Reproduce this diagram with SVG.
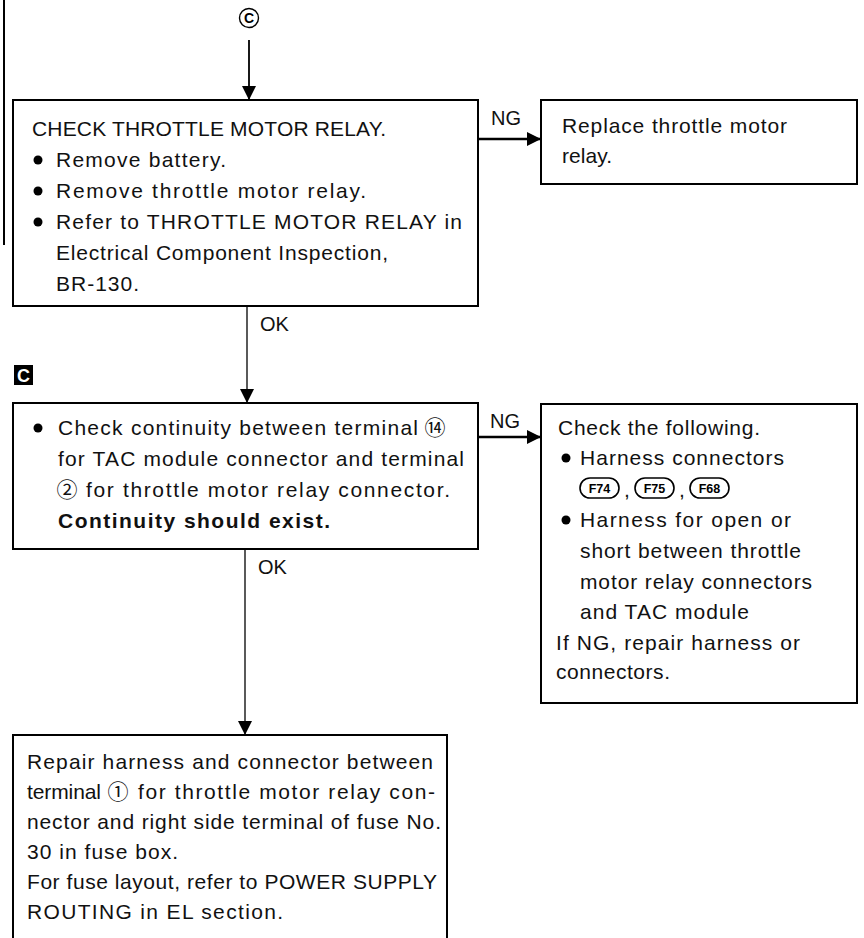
<svg xmlns="http://www.w3.org/2000/svg" width="864" height="938" viewBox="0 0 864 938">
<defs>
<style>
.box{fill:#fff;stroke:#000;stroke-width:2}
.t{font-family:"Liberation Sans",Arial,sans-serif;font-size:21px;fill:#111}
.b{font-weight:bold}
.lbl{font-family:"Liberation Sans",Arial,sans-serif;font-size:20px;fill:#111}
.c{font-family:"Noto Sans CJK JP","DejaVu Sans",sans-serif;font-size:21px;fill:#111}
.con{stroke:#000;fill:none}
.pill{fill:#fff;stroke:#000;stroke-width:1.6}
.pt{font-family:"Liberation Sans",Arial,sans-serif;font-size:12.5px;font-weight:bold;fill:#000}
</style>
<marker id="ah" viewBox="0 0 10 10" refX="10" refY="5" markerWidth="14" markerHeight="14" markerUnits="userSpaceOnUse" orient="auto">
<path d="M0,0 L10,5 L0,10 z" fill="#000"/>
</marker>
</defs>
<rect width="864" height="938" fill="#fff"/>
<line x1="4" y1="0" x2="4" y2="245" stroke="#000" stroke-width="2"/>

<g id="entry">
<circle cx="249" cy="18" r="9.5" fill="none" stroke="#000" stroke-width="1.4"/>
<text x="249" y="23" text-anchor="middle" font-family="Liberation Sans,Arial,sans-serif" font-size="14" font-weight="bold">C</text>
</g>

<g id="tagC">
<rect x="14" y="365" width="19" height="20" fill="#000"/>
<text x="23.5" y="381.5" text-anchor="middle" font-family="Liberation Sans,Arial,sans-serif" font-size="18" font-weight="bold" fill="#fff">C</text>
</g>

<g id="connectors">
<line class="con" x1="249" y1="40" x2="249" y2="100" stroke-width="1.8" marker-end="url(#ah)"/>
<line class="con" x1="478" y1="139" x2="541" y2="139" stroke-width="2.5" marker-end="url(#ah)"/>
<line class="con" x1="247" y1="306" x2="247" y2="403" stroke-width="1.3" marker-end="url(#ah)"/>
<line class="con" x1="478" y1="437" x2="541" y2="437" stroke-width="2.5" marker-end="url(#ah)"/>
<line class="con" x1="245" y1="549" x2="245" y2="735" stroke-width="1.3" marker-end="url(#ah)"/>
<text class="lbl" x="491" y="125">NG</text>
<text class="lbl" x="490" y="428">NG</text>
<text class="lbl" x="260" y="331">OK</text>
<text class="lbl" x="258" y="574">OK</text>
</g>

<g id="check-relay">
<rect class="box" x="13" y="100" width="465" height="206"/>
<text class="t" x="32" y="136" textLength="354">CHECK THROTTLE MOTOR RELAY.</text>
<circle cx="38" cy="160" r="4.5"/>
<text class="t" x="56" y="167" textLength="170">Remove battery.</text>
<circle cx="38" cy="191" r="4.5"/>
<text class="t" x="56" y="198" textLength="310">Remove throttle motor relay.</text>
<circle cx="38" cy="222" r="4.5"/>
<text class="t" x="56" y="229" textLength="406">Refer to THROTTLE MOTOR RELAY in</text>
<text class="t" x="56" y="260" textLength="332">Electrical Component Inspection,</text>
<text class="t" x="56" y="291" textLength="83">BR-130.</text>
</g>

<g id="replace-relay">
<rect class="box" x="541" y="100" width="316" height="84"/>
<text class="t" x="562" y="133" textLength="225">Replace throttle motor</text>
<text class="t" x="562" y="163" textLength="50">relay.</text>
</g>

<g id="check-continuity">
<rect class="box" x="13" y="403" width="465" height="146"/>
<circle cx="38" cy="428" r="4.5"/>
<text class="t" x="58" y="435" textLength="360">Check continuity between terminal</text>
<text class="c" x="435" y="435" text-anchor="middle">⑭</text>
<text class="t" x="58" y="466" textLength="406">for TAC module connector and terminal</text>
<text class="c" x="67" y="497" text-anchor="middle">②</text>
<text class="t" x="86" y="497" textLength="364">for throttle motor relay connector.</text>
<text class="t b" x="58" y="528" textLength="272">Continuity should exist.</text>
</g>

<g id="check-following">
<rect class="box" x="541" y="404" width="316" height="299"/>
<text class="t" x="558" y="435" textLength="202">Check the following.</text>
<circle cx="566" cy="458" r="4.5"/>
<text class="t" x="580" y="465" textLength="204">Harness connectors</text>
<rect class="pill" x="580" y="478" width="39" height="20" rx="10"/>
<text class="pt" x="599.5" y="492.5" text-anchor="middle">F74</text>
<text class="t" x="624" y="497">,</text>
<rect class="pill" x="635" y="478" width="39" height="20" rx="10"/>
<text class="pt" x="654.5" y="492.5" text-anchor="middle">F75</text>
<text class="t" x="679" y="497">,</text>
<rect class="pill" x="690" y="478" width="39" height="20" rx="10"/>
<text class="pt" x="709.5" y="492.5" text-anchor="middle">F68</text>
<circle cx="566" cy="520" r="4.5"/>
<text class="t" x="580" y="527" textLength="211">Harness for open or</text>
<text class="t" x="580" y="558" textLength="221">short between throttle</text>
<text class="t" x="580" y="589" textLength="232">motor relay connectors</text>
<text class="t" x="580" y="619" textLength="169">and TAC module</text>
<text class="t" x="556" y="650" textLength="244">If NG, repair harness or</text>
<text class="t" x="556" y="679" textLength="114">connectors.</text>
</g>

<g id="repair-harness">
<path d="M13,938 V735 H447 V938" fill="#fff" stroke="#000" stroke-width="2"/>
<text class="t" x="27" y="769" textLength="406">Repair harness and connector between</text>
<text class="t" x="27" y="799" textLength="74">terminal</text>
<text class="c" x="118" y="799" text-anchor="middle">①</text>
<text class="t" x="138" y="799" textLength="297">for throttle motor relay con-</text>
<text class="t" x="27" y="829" textLength="414">nector and right side terminal of fuse No.</text>
<text class="t" x="27" y="859" textLength="151">30 in fuse box.</text>
<text class="t" x="27" y="889" textLength="410">For fuse layout, refer to POWER SUPPLY</text>
<text class="t" x="27" y="919" textLength="256">ROUTING in EL section.</text>
</g>
</svg>
